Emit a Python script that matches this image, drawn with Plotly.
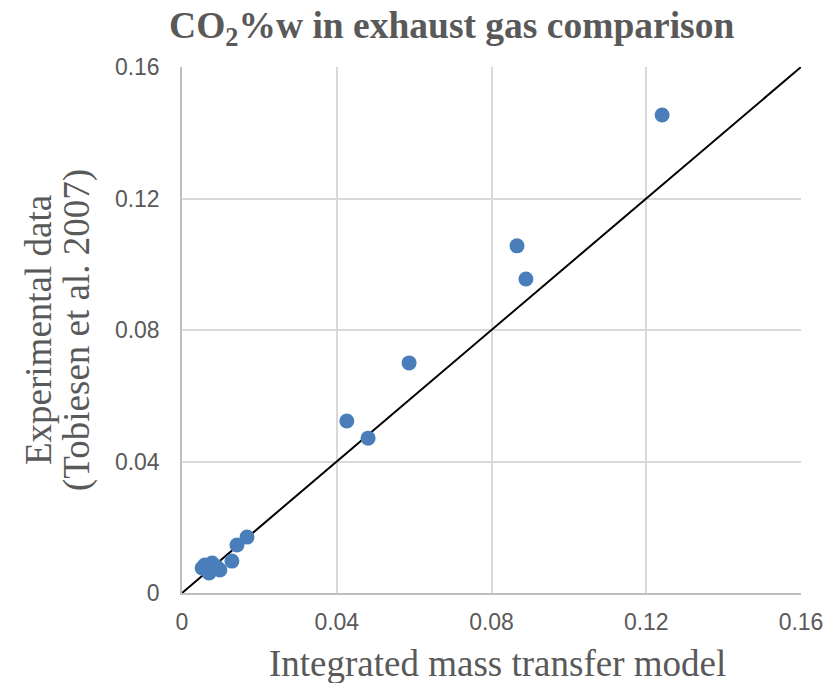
import plotly.graph_objects as go

model_x = [0.1241, 0.0866, 0.0889, 0.0587, 0.0426, 0.0481, 0.0168, 0.0142, 0.0129,
           0.0059, 0.0070, 0.0090, 0.0078, 0.0098, 0.0052]
exp_y = [0.1454, 0.1056, 0.0955, 0.0700, 0.0523, 0.0471, 0.0170, 0.0146, 0.0097,
         0.0085, 0.0061, 0.0079, 0.0091, 0.0070, 0.0076]
parity = [0, 0.16]
ticks = [0, 0.04, 0.08, 0.12, 0.16]
tick_text = ["0", "0.04", "0.08", "0.12", "0.16"]
x_title = "Integrated mass transfer model"
y_title_lines = ["Experimental data", "(Tobiesen et al. 2007)"]

serif = "Liberation Serif, Times New Roman, serif"
grey = "#595959"

fig = go.Figure()
fig.add_trace(go.Scatter(x=parity, y=parity, mode="lines",
                         line=dict(color="black", width=2), showlegend=False, hoverinfo="skip"))
fig.add_trace(go.Scatter(x=model_x, y=exp_y, mode="markers",
                         marker=dict(color="#4a7ebb", size=15), showlegend=False))

axis_common = dict(range=[0, 0.16], tickvals=ticks, ticktext=tick_text,
                   showgrid=True, gridcolor="#d9d9d9", gridwidth=1.5,
                   zeroline=False, showline=True, linecolor="#bfbfbf", linewidth=1.5,
                   tickfont=dict(family="Liberation Sans, Arial, sans-serif", size=23, color=grey),
                   ticks="", automargin=False)
fig.update_xaxes(**axis_common, ticklabelstandoff=8)
fig.update_yaxes(**axis_common, ticklabelstandoff=16)

plot_w, plot_h = 838 - 182 - 37, 683 - 67 - 90
fig.add_annotation(text=x_title, xref="paper", yref="paper",
                   x=(497 - 182) / plot_w, y=-(663 - 593) / plot_h,
                   xanchor="center", yanchor="middle", showarrow=False,
                   font=dict(family=serif, size=37, color=grey))
for txt, px in zip(y_title_lines, [38, 77]):
    fig.add_annotation(text=txt, textangle=-90, xref="paper", yref="paper",
                       x=(px - 182) / plot_w, y=0.5, xanchor="center", yanchor="middle",
                       showarrow=False, font=dict(family=serif, size=37, color=grey))

fig.update_layout(
    width=838, height=683,
    margin=dict(l=182, r=37, t=67, b=90),
    plot_bgcolor="white", paper_bgcolor="white",
    title=dict(text="<b>CO<sub>2</sub>%w in exhaust gas comparison</b>",
               font=dict(family=serif, size=37.5, color=grey),
               x=0.539, xanchor="center", y=0.963, yanchor="middle"),
)

fig.write_html("out.html")
